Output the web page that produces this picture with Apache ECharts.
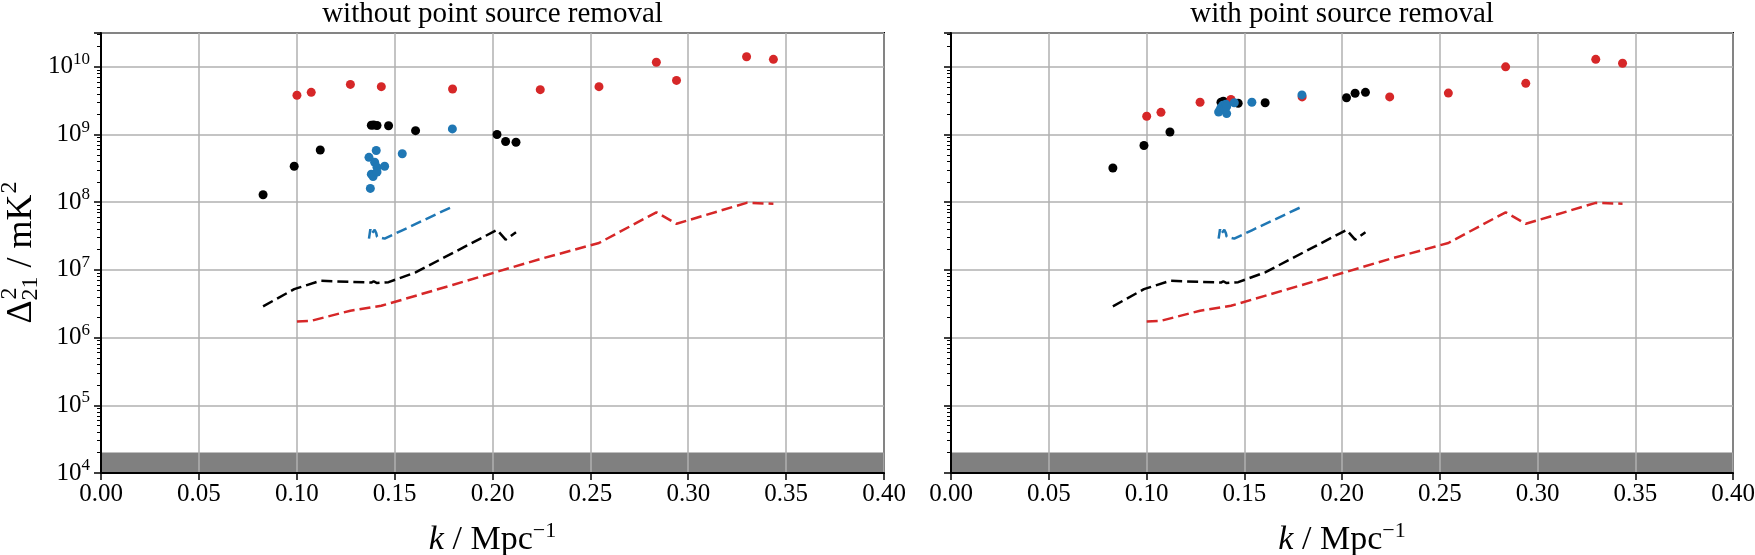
<!DOCTYPE html>
<html>
<head>
<meta charset="utf-8">
<script src="https://cdn.jsdelivr.net/npm/echarts@6/dist/echarts.min.js"></script>
<style>
  html, body { margin: 0; padding: 0; background: #fff; }
  #chart { width: 1755px; height: 555px; }
</style>
</head>
<body>
<div id="chart"></div>
<script>
// k values (Mpc^-1) of the three data sets
const kRed = [0.1001, 0.1074, 0.1274, 0.1432, 0.1796, 0.2244, 0.2544, 0.2837, 0.2940, 0.3298, 0.3435]
const kBlack = [0.0828, 0.0987, 0.1120, 0.1381, 0.1393, 0.1410, 0.1469, 0.1607, 0.2023, 0.2067, 0.2120]
const kBlue = [0.1369, 0.1376, 0.1381, 0.1390, 0.1398, 0.1406, 0.1410, 0.1410, 0.1449, 0.1539, 0.1795]

// power, without point source removal
const redRaw = [3.8e9, 4.2e9, 5.5e9, 5.1e9, 4.7e9, 4.6e9, 5.1e9, 1.17e10, 6.3e9, 1.41e10, 1.29e10]
const blackRaw = [1.29e8, 3.4e8, 5.9e8, 1.37e9, 1.38e9, 1.36e9, 1.35e9, 1.14e9, 1.0e9, 7.9e8, 7.7e8]
const blueRaw = [4.6e8, 1.6e8, 2.6e8, 2.4e8, 3.9e8, 5.8e8, 3.3e8, 2.8e8, 3.4e8, 5.2e8, 1.21e9]

// power, with point source removal
const redClean = [1.86e9, 2.13e9, 3.0e9, 3.3e9, 3.6e9, 3.6e9, 4.1e9, 1.0e10, 5.7e9, 1.29e10, 1.13e10]
const blackClean = [3.2e8, 6.9e8, 1.09e9, 3.0e9, 3.1e9, 2.95e9, 2.9e9, 2.95e9, 3.5e9, 4.07e9, 4.2e9]
const blueClean = [2.15e9, 2.3e9, 2.5e9, 2.7e9, 2.4e9, 2.8e9, 2.04e9, 2.6e9, 2.95e9, 3.0e9, 3.85e9]

// noise levels (dashed), same in both panels
const redNoise = [1.73e6, 1.77e6, 2.5e6, 2.95e6, 6.0e6, 1.45e7, 2.5e7, 7.1e7, 4.8e7, 9.8e7, 9.5e7]
const blackNoise = [2.9e6, 5.2e6, 6.9e6, 6.5e6, 6.8e6, 6.4e6, 6.6e6, 9.2e6, 3.9e7, 2.8e7, 3.6e7]
const blueNoise = [2.9e7, 4.0e7, 3.4e7, 3.6e7, 3.9e7, 3.5e7, 3.3e7, 3.1e7, 2.9e7, 3.85e7, 8.6e7]

const bandTop = 2e4
const yMin = 1e4
const yMax = 3.1623e10
const titles = ['without point source removal', 'with point source removal']

const RED = '#d62728', BLACK = '#000000', BLUE = '#1f77b4'
const FONT = 'Liberation Serif'

// minor ticks 2..9 x 10^n, in log10 units for the helper axis
const minorLogs = []
for (let e = 4; e <= 10; e++) {
  for (let m = 2; m <= 9; m++) {
    const v = e + Math.log10(m)
    if (v <= 10.5) minorLogs.push(v)
  }
}

function pairs(ks, vs) {
  return ks.map((k, i) => [k, vs[i]])
}

const chart = echarts.init(document.getElementById('chart'))

const grids = [
  { left: 101, top: 33, width: 783, height: 440 },
  { left: 951, top: 33, width: 782, height: 440 }
]

function xAxisFor(i) {
  return {
    type: 'value', gridIndex: i, min: 0, max: 0.4, interval: 0.05, z: 3,
    name: '{i|k} / Mpc{sup|−1}',
    nameLocation: 'middle', nameGap: 47,
    nameTextStyle: {
      fontFamily: FONT, fontSize: 34, color: '#000', lineHeight: 40,
      rich: {
        i: { fontFamily: FONT, fontStyle: 'italic', fontSize: 34, lineHeight: 40 },
        sup: { fontFamily: FONT, fontSize: 22, verticalAlign: 'top', lineHeight: 22 }
      }
    },
    axisLine: { show: true, lineStyle: { color: '#000', width: 2 } },
    axisTick: { show: true, inside: false, length: 7, lineStyle: { color: '#000', width: 1.5 } },
    axisLabel: {
      fontFamily: FONT, fontSize: 25, color: '#000', margin: 9,
      formatter: v => v.toFixed(2)
    },
    splitLine: { show: true, lineStyle: { color: '#b0b0b0', width: 1.5 } }
  }
}

function yAxisFor(i, labels) {
  return {
    type: 'log', logBase: 10, gridIndex: i, min: yMin, max: yMax, z: 3,
    axisLine: { show: true, lineStyle: { color: '#000', width: 2 } },
    axisTick: { show: true, inside: false, length: 7, lineStyle: { color: '#000', width: 1.5 } },
    axisLabel: {
      show: labels, fontFamily: FONT, fontSize: 25, color: '#000', margin: 11, lineHeight: 32,
      formatter: v => {
        const e = Math.log10(v)
        const r = Math.round(e)
        if (Math.abs(e - r) > 0.01) return ''
        return '10{sup|' + r + '}'
      },
      rich: { sup: { fontFamily: FONT, fontSize: 17, verticalAlign: 'top', lineHeight: 17 } }
    },
    splitLine: { show: true, lineStyle: { color: '#b0b0b0', width: 1.5 } }
  }
}

function minorAxisFor(i) {
  // helper axis in log10 units, only used for the matplotlib-like minor ticks
  return {
    type: 'value', gridIndex: i, position: 'left', min: 4, max: 10.5, z: 3,
    axisLine: { show: false },
    axisLabel: { show: false },
    splitLine: { show: false },
    axisTick: { show: true, inside: false, length: 4, customValues: minorLogs, lineStyle: { color: '#000', width: 1 } }
  }
}

function panelSeries(i, red, black, blue) {
  const dash = { type: [11, 5], width: 2.5 }
  const yi = i * 2
  return [
    {
      type: 'line', xAxisIndex: i, yAxisIndex: yi, data: [], z: 2, silent: true,
      markArea: {
        silent: true,
        itemStyle: { color: '#808080', opacity: 1 },
        data: [[{ xAxis: 0, yAxis: yMin }, { xAxis: 0.4, yAxis: bandTop }]]
      }
    },
    { type: 'line', xAxisIndex: i, yAxisIndex: yi, data: pairs(kBlack, blackNoise), showSymbol: false, z: 4,
      lineStyle: Object.assign({ color: BLACK }, dash) },
    { type: 'line', xAxisIndex: i, yAxisIndex: yi, data: pairs(kRed, redNoise), showSymbol: false, z: 4,
      lineStyle: Object.assign({ color: RED }, dash) },
    { type: 'line', xAxisIndex: i, yAxisIndex: yi, data: pairs(kBlue, blueNoise), showSymbol: false, z: 4,
      lineStyle: Object.assign({ color: BLUE }, dash) },
    { type: 'scatter', xAxisIndex: i, yAxisIndex: yi, data: pairs(kBlack, black), symbolSize: 9, z: 5,
      itemStyle: { color: BLACK, opacity: 1 } },
    { type: 'scatter', xAxisIndex: i, yAxisIndex: yi, data: pairs(kRed, red), symbolSize: 9, z: 5,
      itemStyle: { color: RED, opacity: 1 } },
    { type: 'scatter', xAxisIndex: i, yAxisIndex: yi, data: pairs(kBlue, blue), symbolSize: 9, z: 5,
      itemStyle: { color: BLUE, opacity: 1 } }
  ]
}

// y-axis title, Δ with stacked ² and ₂₁, rotated to read upwards
const ctx = document.createElement('canvas').getContext('2d')
function textWidth(str, size) {
  ctx.font = size + 'px "' + FONT + '"'
  return ctx.measureText(str).width
}
const big = 36, small = 24
const wDelta = textWidth('Δ', big)
const wSub = textWidth('21', small)
const wRest = textWidth(' / mK', big)
const wSup = textWidth('2', small)
const total = wDelta + wSub + wRest + wSup
const x0 = -total / 2
function part(str, size, x, y) {
  return {
    type: 'text', x: x, y: y,
    style: { text: str, fontFamily: FONT, fontSize: size, fill: '#000', textAlign: 'left', textVerticalAlign: 'middle' }
  }
}
const yTitle = {
  type: 'group', x: 22, y: 253, rotation: Math.PI / 2,
  children: [
    part('Δ', big, x0, 0),
    part('2', small, x0 + wDelta + 1, -12),
    part('21', small, x0 + wDelta, 9),
    part(' / mK', big, x0 + wDelta + wSub, 0),
    part('2', small, x0 + wDelta + wSub + wRest + 1, -12)
  ]
}

chart.setOption({
  animation: false,
  backgroundColor: '#fff',
  title: titles.map((t, i) => ({
    text: t,
    left: grids[i].left + grids[i].width / 2,
    textAlign: 'center',
    top: 0,
    padding: 0,
    textStyle: { fontFamily: FONT, fontWeight: 'normal', fontSize: 29, color: '#000' }
  })),
  grid: grids.map(g => Object.assign({
    show: true, borderColor: '#000', borderWidth: 2, backgroundColor: 'transparent',
    containLabel: false, outerBoundsMode: 'none'
  }, g)),
  xAxis: [xAxisFor(0), xAxisFor(1)],
  yAxis: [yAxisFor(0, true), minorAxisFor(0), yAxisFor(1, false), minorAxisFor(1)],
  graphic: [yTitle],
  series: [].concat(
    panelSeries(0, redRaw, blackRaw, blueRaw),
    panelSeries(1, redClean, blackClean, blueClean)
  )
})
</script>
</body>
</html>
